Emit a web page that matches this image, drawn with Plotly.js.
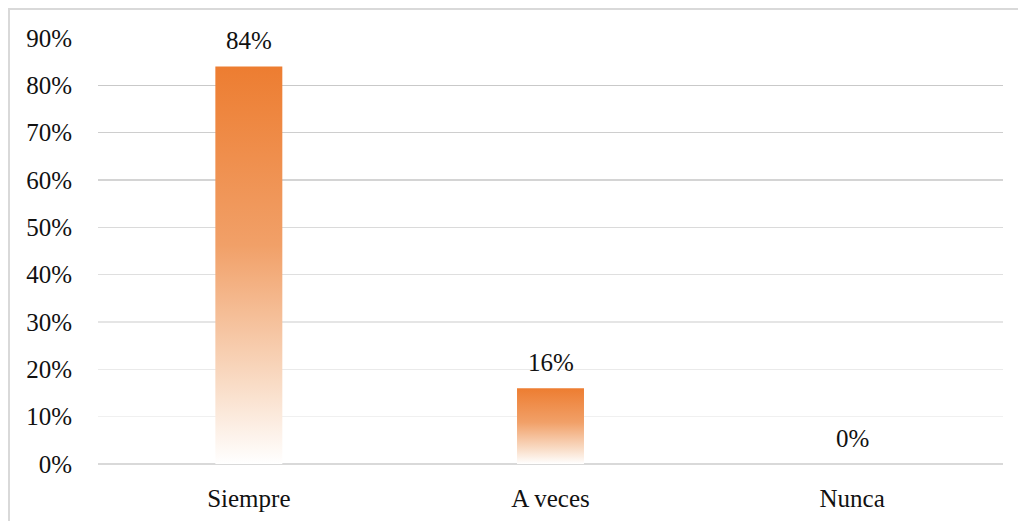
<!DOCTYPE html>
<html>
<head>
<meta charset="utf-8">
<script src="https://cdn.plot.ly/plotly-3.0.1.min.js"></script>
<style>
  html, body { margin: 0; padding: 0; background: #ffffff; overflow: hidden; }
  #frame { position: absolute; left: 8px; top: 8px; width: 1010px; height: 513px;
           border-top: 2px solid #d9d9d9; border-left: 2px solid #d9d9d9; box-sizing: border-box; }
  #chart { width: 1008px; height: 511px; }
</style>
</head>
<body>
<div id="frame"><div id="chart"></div></div>
<script>
const categories = ["Siempre", "A veces", "Nunca"];
const values = [0.84, 0.16, 0.0];
const valueLabels = ["84%", "16%", "0%"];
const yTickValues = [0, 0.1, 0.2, 0.3, 0.4, 0.5, 0.6, 0.7, 0.8, 0.9];
const yTickLabels = ["0%", "10%", "20%", "30%", "40%", "50%", "60%", "70%", "80%", "90%"];

const FONT = "'Liberation Serif', serif";
const FS = 25;

const trace = {
  type: "bar",
  x: categories,
  y: values,
  marker: { color: "#ED7D31", line: { width: 0 } },
  hoverinfo: "none"
};

const annotations = categories.map((c, i) => ({
  x: c, y: values[i], xref: "x", yref: "y",
  text: valueLabels[i], showarrow: false,
  yanchor: "bottom", yshift: 10,
  font: { family: FONT, size: FS, color: "#111111" }
}));

const layout = {
  width: 1008, height: 511,
  margin: { l: 88, r: 15, t: 28, b: 57 },
  paper_bgcolor: "#ffffff",
  plot_bgcolor: "#ffffff",
  bargap: 0.778,
  showlegend: false,
  font: { family: FONT, size: FS, color: "#111111" },
  xaxis: {
    type: "category",
    showgrid: false, showline: false, zeroline: false,
    ticks: "outside", ticklen: 12, tickcolor: "rgba(0,0,0,0)",
    tickfont: { family: FONT, size: FS, color: "#111111" }
  },
  yaxis: {
    range: [0, 0.9],
    tickvals: yTickValues, ticktext: yTickLabels,
    showgrid: true, gridcolor: "#d4d4d4", gridwidth: 1.5,
    zeroline: true, zerolinecolor: "#d9d9d9", zerolinewidth: 1.8,
    showline: false,
    ticks: "outside", ticklen: 20, tickcolor: "rgba(0,0,0,0)",
    tickfont: { family: FONT, size: FS, color: "#111111" }
  },
  annotations: annotations
};

Plotly.newPlot("chart", [trace], layout, { staticPlot: true, displayModeBar: false }).then(gd => {
  const svg = gd.querySelector("svg.main-svg");
  const NS = "http://www.w3.org/2000/svg";
  let defs = svg.querySelector("defs");
  if (!defs) { defs = document.createElementNS(NS, "defs"); svg.insertBefore(defs, svg.firstChild); }
  const grad = document.createElementNS(NS, "linearGradient");
  grad.setAttribute("id", "barGrad");
  grad.setAttribute("x1", "0"); grad.setAttribute("y1", "0");
  grad.setAttribute("x2", "0"); grad.setAttribute("y2", "1");
  [["0", "#ED7D31"], ["0.45", "#f1a068"], ["0.8", "#f9dcc6"], ["1", "#ffffff"]].forEach(([o, c]) => {
    const s = document.createElementNS(NS, "stop");
    s.setAttribute("offset", o); s.setAttribute("stop-color", c);
    grad.appendChild(s);
  });
  defs.appendChild(grad);
  gd.querySelectorAll(".barlayer .point path").forEach(p => { p.style.fill = "url(#barGrad)"; });

  // gridlines fade from darker at top to lighter near the bottom, as in the reference
  const ya = gd._fullLayout.yaxis;
  const plotH = ya._length;
  gd.querySelectorAll(".gridlayer path.ygrid").forEach(p => {
    const m = /translate\(\s*[-\d.]+\s*,\s*([-\d.]+)\s*\)/.exec(p.getAttribute("transform") || "");
    if (!m) return;
    const y = parseFloat(m[1]);
    const f = Math.max(0, Math.min(1, y / plotH)); // 0 at top, 1 at bottom
    const v = Math.round(0xc0 + (0xf2 - 0xc0) * f);
    p.style.stroke = `rgb(${v},${v},${v})`;
  });
});
</script>
</body>
</html>
